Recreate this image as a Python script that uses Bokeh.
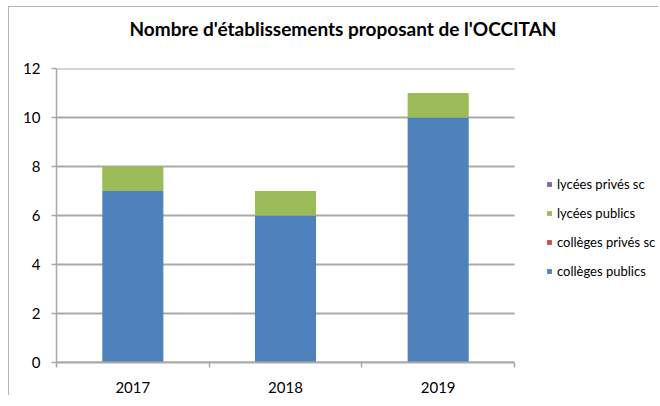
from bokeh.plotting import figure
from bokeh.models import (Range1d, LinearAxis, FixedTicker,
                          Legend, LegendItem, ColumnDataSource, Title)
from bokeh.embed import file_html
from bokeh.resources import INLINE

years = ["2017", "2018", "2019"]
colleges_publics = [7, 6, 10]
colleges_prives_sc = [0, 0, 0]
lycees_publics = [1, 1, 1]
lycees_prives_sc = [0, 0, 0]
series_keys = ["colleges_publics", "colleges_prives_sc", "lycees_publics", "lycees_prives_sc"]
series_names = ["collèges publics", "collèges privés sc", "lycées publics", "lycées privés sc"]
colors = ["#4F81BD", "#C0504D", "#9BBB59", "#8064A2"]
y_ticks = [0, 2, 4, 6, 8, 10, 12]
title_text = "Nombre d'établissements proposant de l'OCCITAN"

FONT = "Lato"
GRAY = "#a9a9a9"

n = len(years)
PLOT_W = 458      # pixel width of the bar area
FRAME_W = 602     # frame extends to the right edge to host the legend
x_end = n * FRAME_W / PLOT_W

centers = [i + 0.5 for i in range(n)]
source = ColumnDataSource(dict(
    x=centers,
    years=years,
    colleges_publics=colleges_publics,
    colleges_prives_sc=colleges_prives_sc,
    lycees_publics=lycees_publics,
    lycees_prives_sc=lycees_prives_sc,
))

p = figure(x_range=Range1d(0, x_end), y_range=Range1d(0, 12), title=None,
           frame_width=FRAME_W, frame_height=294, output_backend="svg", toolbar_location=None,
           x_axis_location=None, y_axis_location=None,
           min_border_left=47, min_border_right=0, min_border_top=61, min_border_bottom=30)
p.outline_line_color = None
p.background_fill_color = "white"
p.border_fill_color = "white"
p.styles = {"margin-left": "8px", "margin-top": "6px",
            "border-left": "1px solid #b4b4b4", "border-top": "1px solid #b4b4b4"}
p.xgrid.grid_line_color = None
p.ygrid.grid_line_color = None

# horizontal gridlines limited to the bar area
p.segment(x0=0, x1=n, y0=y_ticks, y1=y_ticks, line_color=GRAY, line_width=2)

# y axis
yax = LinearAxis(ticker=FixedTicker(ticks=y_ticks))
yax.axis_line_color = GRAY
yax.axis_line_width = 1.5
yax.major_tick_line_color = GRAY
yax.major_tick_line_width = 1.5
yax.major_tick_out = 5
yax.major_tick_in = 0
yax.minor_tick_line_color = None
yax.major_label_standoff = 11
yax.major_label_text_font = FONT
yax.major_label_text_font_size = "15px"
yax.major_label_text_color = "black"
p.add_layout(yax, "left")

# x tick axis (ticks at category boundaries)
tax = LinearAxis(ticker=FixedTicker(ticks=list(range(n + 1))), bounds=(0, n))
tax.axis_line_color = GRAY
tax.axis_line_width = 2
tax.major_tick_line_color = GRAY
tax.major_tick_line_width = 1.5
tax.major_tick_out = 5
tax.major_tick_in = 0
tax.minor_tick_line_color = None
tax.major_label_text_color = None
tax.major_label_text_font_size = "1px"
tax.major_label_standoff = 0
p.add_layout(tax, "below")

# x label axis (year labels at category centres)
xax = LinearAxis(ticker=FixedTicker(ticks=centers), bounds=(0, n),
                 major_label_overrides={c: y for c, y in zip(centers, years)})
xax.axis_line_color = None
xax.major_tick_line_color = None
xax.minor_tick_line_color = None
xax.major_label_standoff = 8
xax.major_label_text_font = FONT
xax.major_label_text_font_size = "15px"
xax.major_label_text_color = "black"
p.add_layout(xax, "below")

renderers = p.vbar_stack(series_keys, x="x", width=0.4, color=colors,
                         line_color=None, source=source)

items = [LegendItem(label=series_names[i], renderers=[renderers[i]]) for i in range(len(series_names))][::-1]
legend = Legend(items=items, location=(490, 78))
legend.padding = 0
legend.margin = 0
legend.border_line_color = None
legend.background_fill_alpha = 0
legend.glyph_width = 6
legend.glyph_height = 6
legend.label_standoff = 5
legend.label_height = 26
legend.spacing = 3
legend.label_text_font = FONT
legend.label_text_font_size = "13px"
legend.label_text_color = "black"
p.add_layout(legend, "center")

# spacer above the frame, then the chart title
spacer = Title(text=" ", text_font_size="10px", standoff=14)
p.add_layout(spacer, "above")
title = Title(text=title_text, align="left", offset=73, standoff=4,
              text_font=FONT, text_font_size="19px", text_font_style="bold",
              text_color="black")
p.add_layout(title, "above")

open("out.html", "w").write(file_html(p, INLINE))
